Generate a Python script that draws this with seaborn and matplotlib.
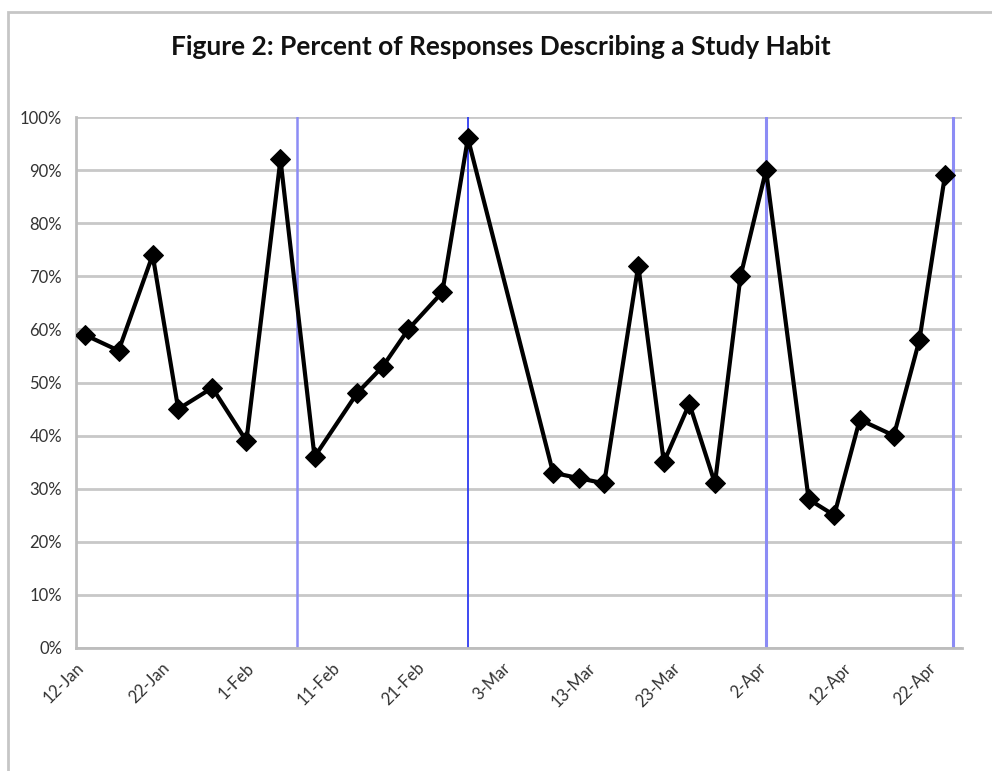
import pandas as pd
import numpy as np
import matplotlib
matplotlib.use('Agg')
import matplotlib.pyplot as plt
import matplotlib.dates as mdates
from matplotlib.patches import Rectangle
from matplotlib.ticker import PercentFormatter
import seaborn as sns

# %% data (year is not shown, 2013 has a 28-day Feb)
dates = ['2013-01-13', '2013-01-17', '2013-01-21', '2013-01-24', '2013-01-28',
         '2013-02-01', '2013-02-05', '2013-02-09', '2013-02-14', '2013-02-17',
         '2013-02-20', '2013-02-24', '2013-02-27', '2013-03-09', '2013-03-12',
         '2013-03-15', '2013-03-19', '2013-03-22', '2013-03-25', '2013-03-28',
         '2013-03-31', '2013-04-03', '2013-04-08', '2013-04-11', '2013-04-14',
         '2013-04-18', '2013-04-21', '2013-04-24']
percent = [59, 56, 74, 45, 49, 39, 92, 36, 48, 53, 60, 67, 96, 33, 32, 31,
           72, 35, 46, 31, 70, 90, 28, 25, 43, 40, 58, 89]

marker_dates = ['2013-02-07', '2013-02-27', '2013-04-03', '2013-04-25']
marker_colors = ['#8c8cf5', '#2f3cf0', '#8c8cf5', '#8c8cf5']
marker_widths = [1.8, 1.3, 2.2, 2.2]

tick_dates = pd.date_range('2013-01-12', '2013-04-22', freq='10D')
title = 'Figure 2: Percent of Responses Describing a Study Habit'

df = pd.DataFrame({'date': pd.to_datetime(dates), 'pct': percent})

# %% plot
sns.set_style('white')
plt.rcParams['font.family'] = ['Lato', 'DejaVu Sans']

fig = plt.figure(figsize=(9.92, 7.71), dpi=100)
ax = fig.add_axes([76/992, 1 - 648/771, 886/992, 531/771])

# outer chart frame (only left and top edges visible in the picture)
fig.patches.append(Rectangle((8/992, -0.1), 1.2, 1 - 12/771 + 0.1,
                             transform=fig.transFigure, fill=False,
                             edgecolor='#c6c6c6', lw=2, zorder=0))

for d, c, w in zip(marker_dates, marker_colors, marker_widths):
    ax.axvline(pd.Timestamp(d), color=c, lw=w, zorder=2)

sns.lineplot(data=df, x='date', y='pct', ax=ax, color='black', lw=3,
             marker='D', markersize=10, markeredgecolor='black', zorder=3)

ax.set_ylim(0, 100)
ax.set_yticks(np.arange(0, 101, 10))
ax.yaxis.set_major_formatter(PercentFormatter(decimals=0))
ax.set_xlim(pd.Timestamp('2013-01-12'), pd.Timestamp('2013-04-26'))
ax.set_xticks(tick_dates)
ax.xaxis.set_major_formatter(mdates.DateFormatter('%-d-%b'))

ax.grid(axis='y', color='#c8c8c8', lw=2)
ax.set_axisbelow(True)
for s in ['top', 'right']:
    ax.spines[s].set_visible(False)
for s in ['left', 'bottom']:
    ax.spines[s].set_color('#bdbdbd')
    ax.spines[s].set_linewidth(2)
ax.tick_params(axis='both', colors='#bdbdbd', length=5, width=1.5,
               labelcolor='#333333', labelsize=12, direction='out')
ax.tick_params(axis='y', pad=5)
plt.setp(ax.get_xticklabels(), rotation=45, ha='right', rotation_mode='anchor')
ax.set_xlabel('')
ax.set_ylabel('')

fig.text(0.505, 1 - 47/771, title, ha='center', va='center',
         fontsize=19, fontweight='bold', color='#111111')

plt.savefig('out.png', dpi=100)
